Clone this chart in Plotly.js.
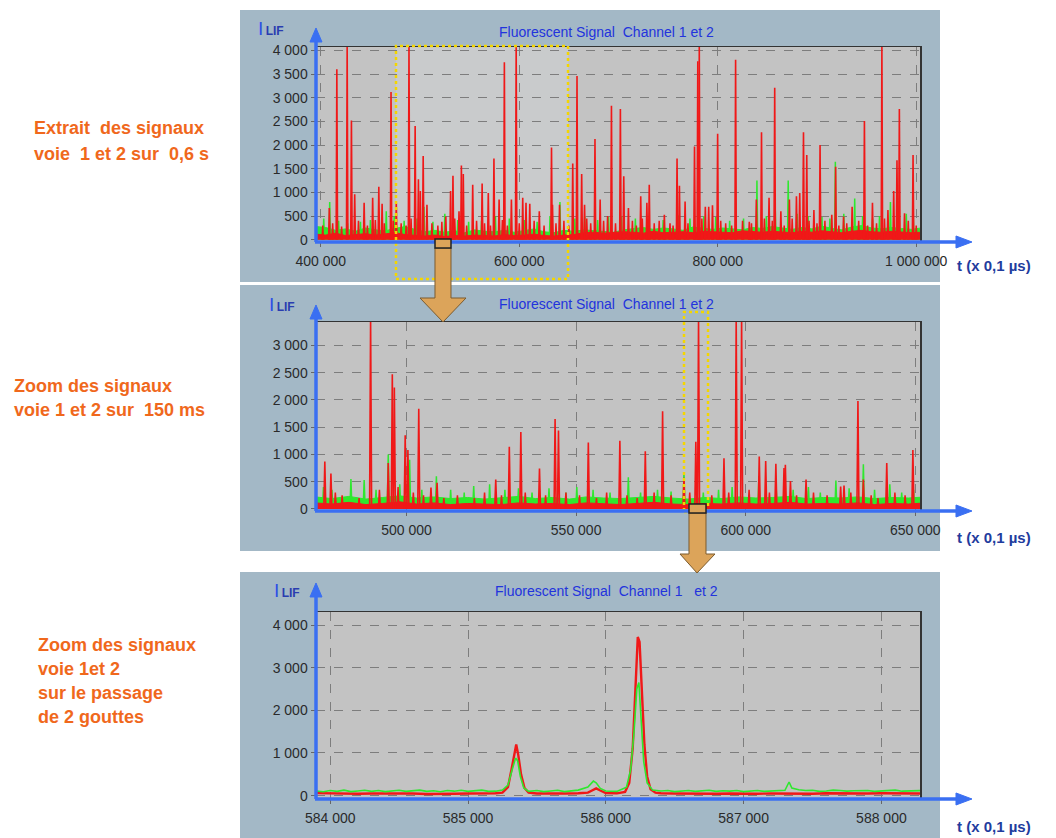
<!DOCTYPE html>
<html>
<head>
<meta charset="utf-8">
<script src="https://cdn.plot.ly/plotly-3.0.1.min.js"></script>
<style>html,body{margin:0;padding:0;background:#fff;}#chart{width:1056px;height:838px;}</style>
</head>
<body>
<div id="chart"></div>
<script>
// ---------------- DATA ----------------
// Panel 1 : extract 0.6 s
const p1RedX = [408600,416200,426600,430900,434200,443700,452300,458500,461800,470800,476100,488900,495100,498400,500300,503200,507000,526000,530800,533200,539300,541700,543600,553100,562600,568800,574500,579700,585000,592100,596900,603500,606800,610600,620200,632500,633500,640600,653900,658200,662900,665800,676300,681500,692900,701900,705300,710000,722400,728600,731000,746200,751900,759000,761400,767100,776600,779900,781400,787500,790900,794700,799900,818000,831800,838900,844100,851700,857400,863600,872200,879300,882600,886400,889700,896900,903100,914900,918800,926800,935400,947800,955900,965400,971500,977300,980600,983000,988200,996800];
const p1RedY = [670,3600,4100,2520,960,780,890,1120,760,3120,780,4100,2400,1280,1030,1770,740,490,1030,1350,600,1570,1390,1160,1190,990,1715,850,3750,850,4100,890,780,760,600,1950,740,740,1610,3460,1390,740,2130,850,2830,2760,1340,670,920,780,1160,530,350,1715,1140,810,1970,3770,4100,700,700,730,2240,3800,380,850,2270,890,3210,600,850,920,990,2270,1790,630,2000,530,1540,490,700,2510,780,4100,630,1030,1680,2760,560,1790];
const p1RedSmallX = [402000,412000,421000,438000,447000,455000,464000,473000,481000,486000,491000,512000,518000,522000,535000,547000,557000,565000,571000,583000,588000,600000,615000,625000,637000,645000,650000,668000,672000,685000,689000,697000,714000,718000,724000,736000,741000,755000,770000,784000,803000,808000,814000,825000,834000,847000,855000,867000,875000,892000,900000,908000,922000,930000,942000,951000,960000,968000,992000,1000000];
const p1RedSmallY = [300,350,280,400,300,420,350,400,350,300,450,350,300,380,450,300,400,350,300,420,300,350,400,300,350,400,300,450,350,400,500,350,400,300,450,350,400,300,350,450,400,350,300,400,350,450,400,300,450,400,350,400,300,350,400,300,350,450,400,300];
const p1GreenX = [403000,409000,418000,427000,440000,450000,466000,474000,484000,497000,504000,513000,525000,538000,549000,562000,576000,590000,605000,618000,631000,641000,656000,666000,679000,690000,703000,717000,730000,745000,760000,772000,786000,798000,812000,826000,839500,849000,858000,871000,880000,891000,905000,913000,918500,927000,938000,946000,956000,963000,974000,981000,990000,997000];
const p1GreenY = [450,800,400,350,380,420,600,500,400,450,700,380,550,420,380,400,500,450,420,380,500,800,450,500,420,480,500,450,400,420,520,450,500,480,400,450,1250,500,600,1250,550,500,480,450,1650,550,870,500,450,500,800,600,550,500];
const p1FloorStart = 395000, p1FloorStep = 10000;
const p1GreenFloor = [280,260,200,230,180,250,210,190,240,280,220,170,200,160,190,150,210,180,170,200,160,190,230,170,150,200,180,210,190,170,160,210,240,260,220,250,230,200,270,240,220,250,230,210,260,240,280,250,220,260,230,290,240,210,270,300,250,230,260,240,220,250];
const p1RedFloor  = [120,100,140,90,110,130,100,120,150,110,90,80,100,70,90,80,100,90,80,110,90,100,120,90,80,100,110,150,160,140,150,170,160,140,180,150,160,170,150,180,170,160,150,190,170,160,180,170,150,180,160,190,170,150,180,200,170,160,180,170,150,160];

// Panel 2 : zoom 150 ms
const p2RedX = [475900,477700,489400,494600,495800,496400,499600,500400,503600,507200,509000,526300,530300,533700,539200,543800,544800,553600,562900,570400,575500,581800,585300,586100,593600,597200,598800,604000,605900,608900,611300,611700,613200,617800,628000,629000,633100,634700,641600,649300];
const p2RedY = [870,650,3500,840,2470,2230,1350,1080,1840,390,480,540,1140,1410,740,1650,1440,1220,1250,1060,1790,570,1230,3500,930,3500,3500,960,880,830,750,810,510,540,410,430,1980,540,840,1080];
const p2RedSmallX = [479000,481000,486000,492000,497500,502000,505000,511000,515000,520000,523000,528000,535000,541000,547000,551000,556000,559000,565000,568000,573000,578000,583500,590000,595000,601000,607000,615000,620000,624000,631000,637000,639000,644000,647000];
const p2RedSmallY = [300,250,200,350,400,300,250,200,250,200,300,250,300,250,300,250,200,300,250,200,300,250,300,250,300,350,300,250,300,250,300,250,200,300,250];
const p2GreenX = [475500,478000,483600,487500,491000,494600,498000,500900,504500,508800,513000,517000,519800,524500,529000,533000,537000,542000,547000,550200,555000,560000,565400,569000,574000,578000,581800,587500,592000,596000,603900,609000,614000,618500,622000,626600,630500,634700,638000,642500,646000,649500];
const p2GreenY = [400,350,550,530,350,1000,450,900,350,600,350,300,420,450,350,380,300,380,300,400,350,300,580,300,350,320,640,300,350,400,600,380,350,400,300,520,380,820,350,450,300,350];
const p2FloorStart = 473000, p2FloorStep = 5000;
const p2GreenFloor = [220,190,230,180,210,240,200,220,190,210,180,200,230,190,210,180,220,200,190,210,230,200,180,210,190,220,200,210,230,190,210,200,220,190,210,200,220];
const p2RedFloor  = [110,90,120,80,100,130,90,110,80,100,90,80,110,90,100,80,110,90,80,100,120,90,80,100,90,110,90,100,120,90,100,90,110,80,100,90,110];

// Panel 3 : two droplets
const p3RedX = [583900,584000,584100,584200,584300,584400,584500,584600,584700,584800,584900,585000,585100,585200,585250,585290,585315,585335,585350,585365,585385,585410,585440,585500,585600,585700,585800,585870,585900,585930,585960,586000,586080,586140,586170,586195,586215,586232,586245,586260,586280,586300,586325,586360,586400,586500,586600,586700,586800,586900,587000,587100,587200,587300,587400,587500,587600,587700,587800,587900,588000,588100,588200,588300];
const p3RedY = [60,50,55,45,50,55,45,50,40,50,45,50,45,55,70,200,600,1000,1200,950,500,180,70,50,45,50,55,70,120,170,120,60,55,90,300,1100,2500,3720,3600,2600,1200,450,150,70,55,50,45,50,45,50,40,45,50,45,50,45,55,50,45,50,55,50,55,50];
const p3GreenX = [583900,583950,584000,584050,584100,584150,584200,584250,584300,584350,584400,584450,584500,584550,584600,584650,584700,584750,584800,584850,584900,584950,585000,585050,585100,585150,585200,585250,585290,585320,585345,585360,585380,585405,585440,585500,585550,585600,585650,585700,585750,585800,585870,585910,585930,585960,586000,586080,586150,586180,586205,586225,586240,586255,586275,586300,586340,586400,586450,586500,586550,586600,586650,586700,586750,586800,586850,586900,586950,587000,587050,587100,587150,587200,587250,587300,587330,587350,587400,587450,587500,587550,587600,587650,587700,587750,587800,587850,587900,587950,588000,588050,588100,588150,588200,588250,588300];
const p3GreenY = [110,90,120,100,130,95,110,125,100,120,95,115,125,100,110,130,100,115,90,120,105,125,100,115,130,100,105,130,250,600,880,820,450,180,100,120,95,110,125,95,115,130,200,340,300,170,110,100,200,600,1500,2500,2650,1800,800,300,130,110,120,95,115,120,100,110,125,100,115,105,120,95,110,120,100,110,130,125,320,180,140,120,125,100,110,130,120,105,115,125,120,100,110,125,130,105,105,120,120];

// Tick / text labels
const titleText = 'Fluorescent Signal\u00a0 Channel 1 et 2';
const titleText3 = 'Fluorescent Signal\u00a0 Channel 1\u00a0\u00a0 et 2';
const xUnitLabel = 't (x 0,1 µs)';
const leftTexts = [
  ['Extrait\u00a0 des signaux', 'voie\u00a0 1 et 2 sur\u00a0 0,6 s'],
  ['Zoom des signaux', 'voie 1 et 2 sur\u00a0 150 ms'],
  ['Zoom des signaux', 'voie 1et 2', 'sur le passage', 'de 2 gouttes']
];

// ---------------- helpers ----------------
const W = 1056, H = 838;
const PX = x => x / W;
const PY = y => 1 - y / H;
const RED = '#f01818', GREEN = '#2ee82e';

function spikes(xs, ys, w) {
  const x = [], y = [];
  for (let i = 0; i < xs.length; i++) {
    x.push(xs[i] - w, xs[i], xs[i] + w, null);
    y.push(0, ys[i], 0, null);
  }
  return {x, y};
}
function floorXs(start, step, n) {
  const x = [];
  for (let i = 0; i < n; i++) x.push(start + i * step);
  return x;
}
function pathOf(pts) {
  return 'M' + pts.map(p => PX(p[0]).toFixed(5) + ',' + PY(p[1]).toFixed(5)).join('L') + 'Z';
}

const traces = [];
function addPanel(ax, gFloorX, gFloor, rFloorX, rFloor, gx, gy, rsx, rsy, rx, ry, w) {
  const xa = 'x' + ax, ya = 'y' + ax;
  traces.push({x: gFloorX, y: gFloor, xaxis: xa, yaxis: ya, mode: 'lines', fill: 'tozeroy',
    fillcolor: GREEN, line: {color: GREEN, width: 1}, hoverinfo: 'skip'});
  const g = spikes(gx, gy, w);
  traces.push({x: g.x, y: g.y, xaxis: xa, yaxis: ya, mode: 'lines', line: {color: GREEN, width: 1.5}, hoverinfo: 'skip'});
  traces.push({x: rFloorX, y: rFloor, xaxis: xa, yaxis: ya, mode: 'lines', fill: 'tozeroy',
    fillcolor: RED, line: {color: RED, width: 1}, hoverinfo: 'skip'});
  const rs = spikes(rsx, rsy, w);
  traces.push({x: rs.x, y: rs.y, xaxis: xa, yaxis: ya, mode: 'lines', line: {color: RED, width: 1.5}, hoverinfo: 'skip'});
  const r = spikes(rx, ry, w);
  traces.push({x: r.x, y: r.y, xaxis: xa, yaxis: ya, mode: 'lines', line: {color: RED, width: 1.6}, hoverinfo: 'skip'});
}
addPanel('', floorXs(p1FloorStart, p1FloorStep, p1GreenFloor.length), p1GreenFloor,
  floorXs(p1FloorStart, p1FloorStep, p1RedFloor.length), p1RedFloor,
  p1GreenX, p1GreenY, p1RedSmallX, p1RedSmallY, p1RedX, p1RedY, 700);
addPanel('2', floorXs(p2FloorStart, p2FloorStep, p2GreenFloor.length), p2GreenFloor,
  floorXs(p2FloorStart, p2FloorStep, p2RedFloor.length), p2RedFloor,
  p2GreenX, p2GreenY, p2RedSmallX, p2RedSmallY, p2RedX, p2RedY, 300);
// panel 3: plain lines
traces.push({x: p3RedX, y: p3RedY, xaxis: 'x3', yaxis: 'y3', mode: 'lines', line: {color: RED, width: 2.4}, hoverinfo: 'skip'});
traces.push({x: p3GreenX, y: p3GreenY, xaxis: 'x3', yaxis: 'y3', mode: 'lines', line: {color: GREEN, width: 1.6}, hoverinfo: 'skip'});

// ---------------- layout ----------------
const tickFont = {family: 'Liberation Sans Narrow, Arial Narrow, Liberation Sans, Arial, sans-serif', size: 14, color: '#2a2a2a'};
function xAxis(domainY, range, dtick, tick0, anchor) {
  return {domain: [PX(316), PX(920)], range: range, dtick: dtick, tick0: tick0, anchor: anchor,
    showgrid: true, gridcolor: '#7d7d7d', griddash: 'dash', gridwidth: 1,
    showline: true, mirror: true, linecolor: '#333', linewidth: 1.5,
    ticks: 'outside', ticklen: 4, tickcolor: '#666', tickfont: tickFont,
    separatethousands: true, exponentformat: 'none', zeroline: false, ticklabelstandoff: 3, fixedrange: true};
}
function yAxis(top, bottom, range, dtick, anchor) {
  return {domain: [PY(bottom), PY(top)], range: range, dtick: dtick, tick0: 0, anchor: anchor,
    showgrid: true, gridcolor: '#7d7d7d', griddash: 'dash', gridwidth: 1,
    showline: true, mirror: true, linecolor: '#333', linewidth: 1.5,
    ticks: 'outside', ticklen: 4, tickcolor: '#666', tickfont: tickFont,
    separatethousands: true, exponentformat: 'none', zeroline: false, fixedrange: true};
}

const panels = [
  {top: 10, bottom: 282, pTop: 47, pBot: 241, vTip: 28, title: titleText, titleY: 32, lifX: 256, lifY: 28, unitY: 265},
  {top: 285, bottom: 551, pTop: 322, pBot: 510, vTip: 305, title: titleText, titleY: 304, lifX: 267, lifY: 304, unitY: 537},
  {top: 572, bottom: 838, pTop: 612, pBot: 798, vTip: 583, title: titleText3, titleY: 591, lifX: 272, lifY: 590, unitY: 826}
];

const shapes = [];
const annotations = [];
const BLUE = '#3a6ff2';
panels.forEach((p, i) => {
  shapes.push({type: 'rect', xref: 'paper', yref: 'paper', x0: PX(240), x1: PX(940), y0: PY(p.bottom), y1: PY(p.top),
    fillcolor: '#a3b8c6', line: {width: 0}, layer: 'below'});
  shapes.push({type: 'rect', xref: 'paper', yref: 'paper', x0: PX(316), x1: PX(920), y0: PY(p.pBot), y1: PY(p.pTop),
    fillcolor: '#c3c3c3', line: {width: 0}, layer: 'below'});
});
// highlight of zoomed window in panel 1
shapes.push({type: 'rect', xref: 'paper', yref: 'paper', x0: PX(396), x1: PX(568), y0: PY(241), y1: PY(47),
  fillcolor: 'rgba(225,232,236,0.22)', line: {width: 0}, layer: 'below'});

// yellow dotted boxes
shapes.push({type: 'rect', xref: 'paper', yref: 'paper', x0: PX(396), x1: PX(568), y0: PY(279), y1: PY(46),
  line: {color: '#f4d600', width: 2.5, dash: 'dot'}, fillcolor: 'rgba(0,0,0,0)', layer: 'above'});
shapes.push({type: 'rect', xref: 'paper', yref: 'paper', x0: PX(684), x1: PX(708), y0: PY(512), y1: PY(312),
  line: {color: '#f4d600', width: 2.5, dash: 'dot'}, fillcolor: 'rgba(0,0,0,0)', layer: 'above'});

// blue axis arrows
panels.forEach((p, i) => {
  shapes.push({type: 'line', xref: 'paper', yref: 'paper', x0: PX(316), x1: PX(316), y0: PY(p.pBot + 1), y1: PY(p.vTip + 12),
    line: {color: BLUE, width: 3.5}, layer: 'above'});
  shapes.push({type: 'path', xref: 'paper', yref: 'paper', path: pathOf([[316, p.vTip], [322, p.vTip + 14], [310, p.vTip + 14]]),
    fillcolor: BLUE, line: {color: BLUE, width: 1}, layer: 'above'});
  shapes.push({type: 'line', xref: 'paper', yref: 'paper', x0: PX(315), x1: PX(958), y0: PY(p.pBot + 1), y1: PY(p.pBot + 1),
    line: {color: BLUE, width: 3.5}, layer: 'above'});
  shapes.push({type: 'path', xref: 'paper', yref: 'paper', path: pathOf([[972, p.pBot + 1], [956, p.pBot - 5], [956, p.pBot + 7]]),
    fillcolor: BLUE, line: {color: BLUE, width: 1}, layer: 'above'});
});

// brown arrows
const ARROW_FILL = '#dca45a', ARROW_LINE = '#7b5b2e';
shapes.push({type: 'path', xref: 'paper', yref: 'paper',
  path: pathOf([[435, 248], [451, 248], [451, 298], [466, 298], [443, 322], [420, 298], [435, 298]]),
  fillcolor: ARROW_FILL, line: {color: ARROW_LINE, width: 1}, layer: 'above'});
shapes.push({type: 'rect', xref: 'paper', yref: 'paper', x0: PX(435), x1: PX(451), y0: PY(248), y1: PY(239),
  fillcolor: ARROW_FILL, line: {color: '#222', width: 1.5}, layer: 'above'});
shapes.push({type: 'path', xref: 'paper', yref: 'paper',
  path: pathOf([[689, 513], [706, 513], [706, 554], [715, 554], [697, 573], [680, 554], [689, 554]]),
  fillcolor: ARROW_FILL, line: {color: ARROW_LINE, width: 1}, layer: 'above'});
shapes.push({type: 'rect', xref: 'paper', yref: 'paper', x0: PX(689), x1: PX(706), y0: PY(513), y1: PY(504),
  fillcolor: ARROW_FILL, line: {color: '#222', width: 1.5}, layer: 'above'});

// annotations
const titleFont = {family: 'Liberation Sans Narrow, Arial Narrow, Liberation Sans, Arial, sans-serif', size: 14, color: '#2233dd'};
panels.forEach((p, i) => {
  annotations.push({xref: 'paper', yref: 'paper', x: PX(606), y: PY(p.titleY), text: p.title, showarrow: false,
    xanchor: 'center', yanchor: 'middle', font: titleFont});
  annotations.push({xref: 'paper', yref: 'paper', x: PX(p.lifX), y: PY(p.lifY), showarrow: false,
    xanchor: 'left', yanchor: 'middle',
    text: '<span style="font-size:19px;color:#2f4fe6">I</span><b><span style="font-size:12px">\u2009LIF</span></b>',
    font: {family: 'Liberation Sans, Arial, sans-serif', size: 12, color: '#2a3cb0'}});
  annotations.push({xref: 'paper', yref: 'paper', x: PX(955), y: PY(p.unitY), showarrow: false,
    xanchor: 'left', yanchor: 'middle', text: '<b>' + xUnitLabel + '</b>',
    font: {family: 'Liberation Sans, Arial, sans-serif', size: 15, color: '#1f3c9e'}});
});
const orangeFont = {family: 'Liberation Sans, Arial, sans-serif', size: 18, color: '#f0681c'};
const leftPos = [[32, 128, 26], [12, 386, 24], [36, 645, 24]];
leftTexts.forEach((lines, i) => {
  lines.forEach((ln, j) => {
    annotations.push({xref: 'paper', yref: 'paper', x: PX(leftPos[i][0]), y: PY(leftPos[i][1] + j * leftPos[i][2]),
      showarrow: false, xanchor: 'left', yanchor: 'middle', text: '<b>' + ln + '</b>', font: orangeFont});
  });
});

const layout = {
  width: W, height: H, margin: {l: 0, r: 0, t: 0, b: 0},
  paper_bgcolor: '#ffffff', plot_bgcolor: 'rgba(0,0,0,0)',
  showlegend: false, separators: ', ',
  xaxis: xAxis(0, [395200, 1003800], 200000, 400000, 'y'),
  yaxis: yAxis(47, 241, [-25, 4070], 500, 'x'),
  xaxis2: xAxis(0, [473300, 651400], 50000, 500000, 'y2'),
  yaxis2: yAxis(322, 510, [-20, 3430], 500, 'x2'),
  xaxis3: xAxis(0, [583897, 588280], 1000, 584000, 'y3'),
  yaxis3: yAxis(612, 798, [-55, 4305], 1000, 'x3'),
  shapes: shapes, annotations: annotations
};
Plotly.newPlot('chart', traces, layout, {staticPlot: true, displayModeBar: false});
</script>
</body>
</html>
